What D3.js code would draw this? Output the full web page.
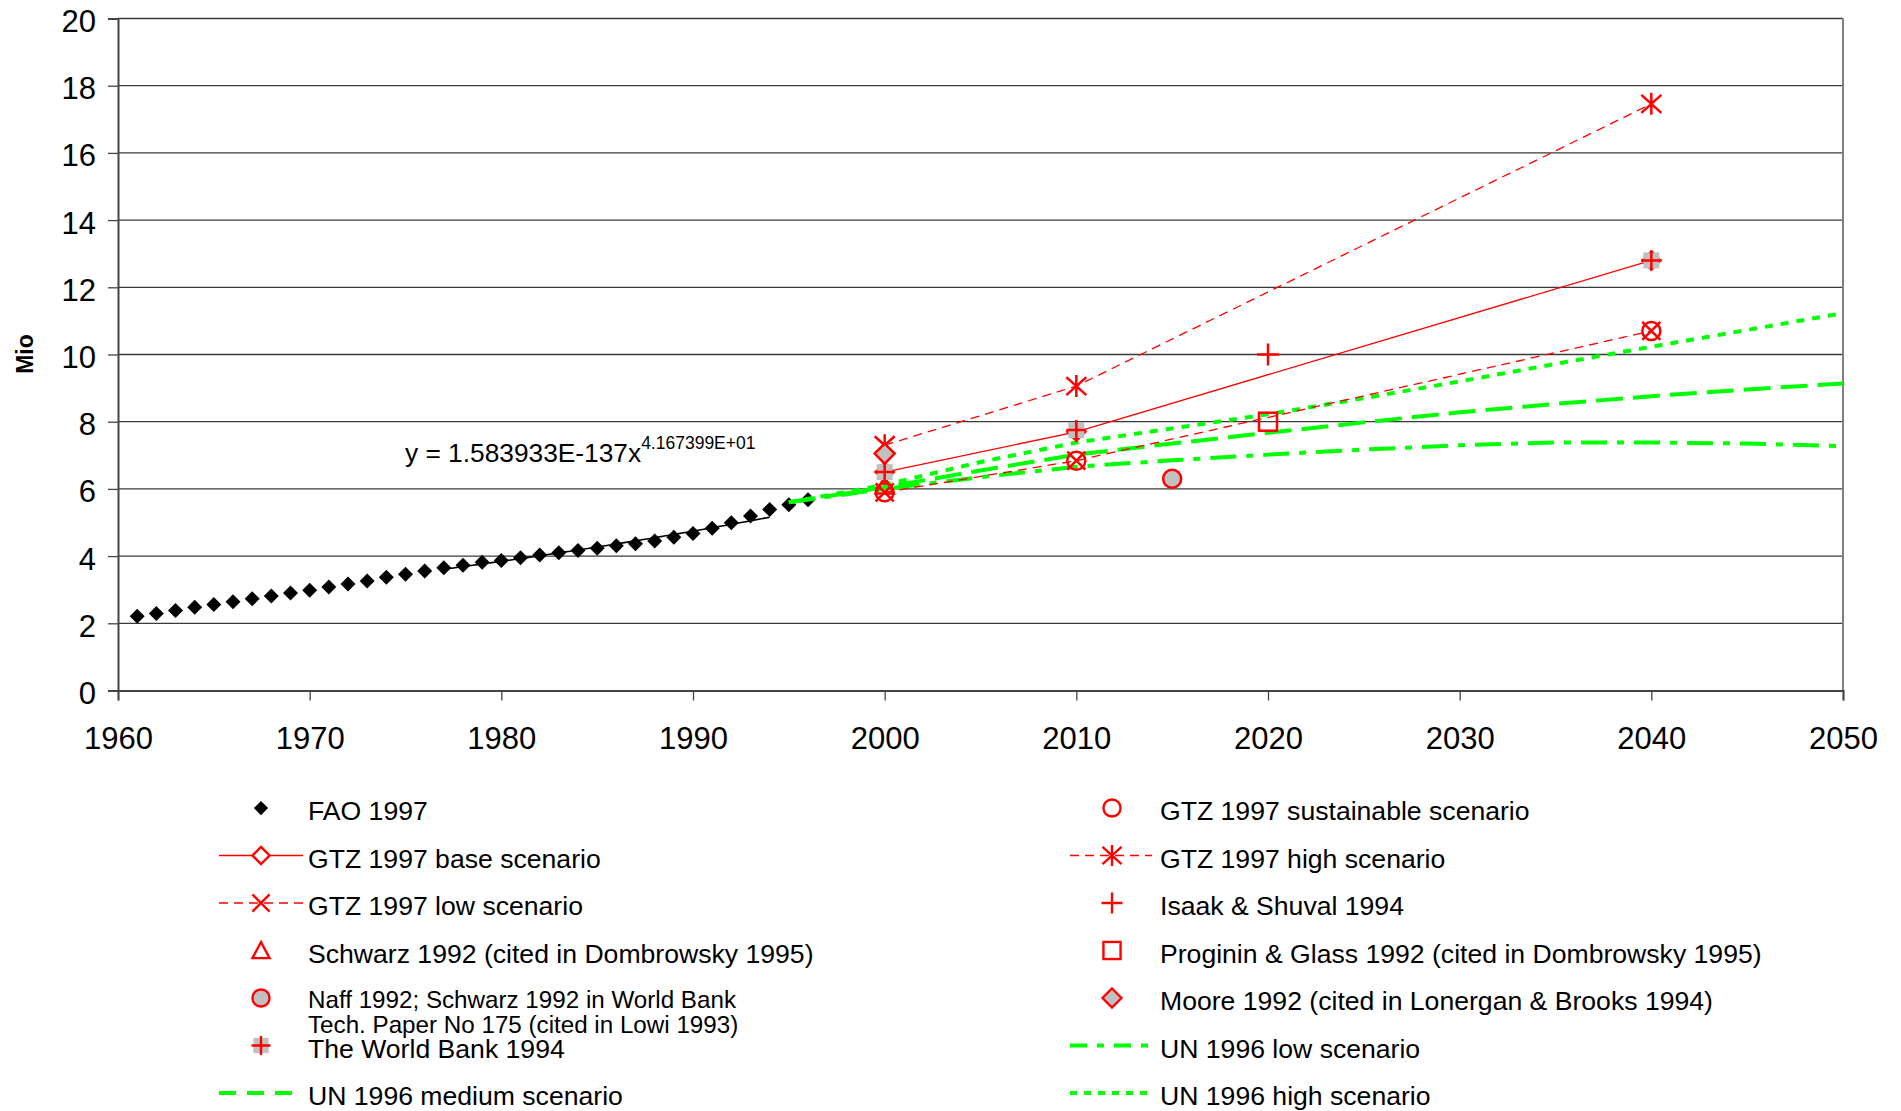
<!DOCTYPE html>
<html><head><meta charset="utf-8">
<script src="https://cdn.jsdelivr.net/npm/d3@7"></script>
<style>html,body{margin:0;padding:0;background:#fff;overflow:hidden}svg{display:block;font-family:"Liberation Sans",Arial,sans-serif}</style>
</head><body><svg id="c" width="1901" height="1111"></svg>
<script>
// ---- data ----
const faoYears = [1961,1962,1963,1964,1965,1966,1967,1968,1969,1970,1971,1972,1973,1974,1975,1976,1977,1978,1979,1980,1981,1982,1983,1984,1985,1986,1987,1988,1989,1990,1991,1992,1993,1994,1995,1996];
const faoValues = [2.21,2.29,2.38,2.48,2.56,2.64,2.73,2.81,2.90,2.98,3.08,3.17,3.26,3.37,3.46,3.56,3.65,3.73,3.82,3.87,3.95,4.03,4.10,4.17,4.23,4.31,4.37,4.45,4.56,4.67,4.83,4.99,5.19,5.39,5.53,5.68];
const trendCoef = [1.583933e-137, 41.67399];
const trendYears = [1977, 1994];
const gtzYears = [2000, 2010, 2040];
const gtzBase = [6.5, 7.7, 12.8];
const gtzLow = [5.9, 6.84, 10.7];
const gtzHigh = [7.3, 9.06, 17.46];
const gtzSustainable = [5.9, 6.84, 10.7];
const schwarzYears = [2000];
const schwarzValues = [6.1];
const naffYears = [2015];
const naffValues = [6.3];
const worldBankYears = [2000, 2010, 2040];
const worldBankValues = [6.5, 7.75, 12.8];
const isaakYears = [2020];
const isaakValues = [10.0];
const proginYears = [2020];
const proginValues = [8.0];
const mooreYears = [2000];
const mooreValues = [7.05];
const unYears = [1995,2000,2005,2010,2015,2020,2025,2030,2035,2040,2045,2050];
const unLow = [5.6,6.0,6.35,6.66,6.85,7.02,7.17,7.3,7.38,7.38,7.35,7.27];
const unMedium = [5.6,6.05,6.55,7.02,7.35,7.67,7.98,8.28,8.53,8.76,8.96,9.14];
const unHigh = [5.6,6.12,6.8,7.38,7.8,8.22,8.7,9.2,9.72,10.23,10.73,11.23];
const xTicks = [1960,1970,1980,1990,2000,2010,2020,2030,2040,2050];
const yTicks = [0,2,4,6,8,10,12,14,16,18,20];
const yTitle = "Mio";
const eqMain = "y = 1.583933E-137x";
const eqSup = "4.167399E+01";
const legendLeft = ["FAO 1997","GTZ 1997 base scenario","GTZ 1997 low scenario","Schwarz 1992 (cited in Dombrowsky 1995)",["Naff 1992; Schwarz 1992 in World Bank","Tech. Paper No 175 (cited in Lowi 1993)"],"The World Bank 1994","UN 1996 medium scenario"];
const legendRight = ["GTZ 1997 sustainable scenario","GTZ 1997 high scenario","Isaak & Shuval 1994","Proginin & Glass 1992 (cited in Dombrowsky 1995)","Moore 1992 (cited in Lonergan & Brooks 1994)","UN 1996 low scenario","UN 1996 high scenario"];

// ---- setup ----
const svg = d3.select("#c");
svg.append("rect").attr("width",1901).attr("height",1111).attr("fill","#fff");
const L=118, R=1843, T=18.5, B=690.5;
const x = d3.scaleLinear().domain([1960,2050]).range([L,R]);
const y = d3.scaleLinear().domain([0,20]).range([B,T]);
const RED="#ff0000", GREEN="#00ff00", GREY="#c0c0c0";

// gridlines
svg.append("g").selectAll("line").data(yTicks.filter(d=>d>0)).join("line")
  .attr("x1",L).attr("x2",R).attr("y1",d=>y(d)).attr("y2",d=>y(d))
  .attr("stroke","#3a3a3a").attr("stroke-width",1.3);
// right border
svg.append("line").attr("x1",R).attr("x2",R).attr("y1",T).attr("y2",B).attr("stroke","#808080").attr("stroke-width",2);

// axes
const yAxis = svg.append("g").attr("transform",`translate(${L},0)`)
  .call(d3.axisLeft(y).tickValues(yTicks).tickSize(10).tickPadding(12).tickFormat(d3.format("d")));
const xAxis = svg.append("g").attr("transform",`translate(0,${B})`)
  .call(d3.axisBottom(x).tickValues(xTicks).tickSize(10).tickPadding(26).tickFormat(d3.format("d")));
[yAxis,xAxis].forEach(a=>{
  a.select(".domain").attr("stroke","#444").attr("stroke-width",2);
  a.selectAll(".tick line").attr("stroke","#444").attr("stroke-width",1.3);
  a.selectAll("text").attr("font-size",31).attr("fill","#000").attr("font-family",'"Liberation Sans",Arial,sans-serif');
});
yAxis.selectAll("text").attr("dy","0.42em");

svg.append("text").attr("transform","translate(33,354) rotate(-90)").attr("text-anchor","middle")
  .attr("font-weight","bold").attr("font-size",23).text(yTitle);

// ---- markers ----
function marker(sel, type, cx, cy, s=1){
  const g = sel.append("g").attr("transform",`translate(${cx},${cy}) scale(${s})`);
  const st = (e)=>e.attr("stroke",RED).attr("stroke-width",2.5);
  switch(type){
    case "fao": g.append("path").attr("d","M0,-7.5L7.5,0L0,7.5L-7.5,0Z").attr("fill","#000"); break;
    case "diamondOpen": st(g.append("path").attr("d","M0,-9L9,0L0,9L-9,0Z").attr("fill","#fff")); break;
    case "x": st(g.append("path").attr("d","M-9,-9L9,9M-9,9L9,-9").attr("fill","none")); break;
    case "triangle": st(g.append("path").attr("d","M0,-9L9,8L-9,8Z").attr("fill","none")); break;
    case "circleGrey": st(g.append("circle").attr("r",9).attr("fill",GREY)); break;
    case "wb": g.append("rect").attr("x",-8).attr("y",-8).attr("width",16).attr("height",16).attr("fill",GREY);
               st(g.append("path").attr("d","M-10,0H10M0,-10V10")); break;
    case "circleOpen": st(g.append("circle").attr("r",9).attr("fill","none")); break;
    case "asterisk": st(g.append("path").attr("d","M-10,-9L10,9M-10,9L10,-9M0,-11V11").attr("fill","none")); break;
    case "plus": st(g.append("path").attr("d","M-11,0H11M0,-11V11")); break;
    case "square": st(g.append("rect").attr("x",-9).attr("y",-9).attr("width",18).attr("height",18).attr("fill","none")); break;
    case "diamondGrey": st(g.append("path").attr("d","M0,-10L10,0L0,10L-10,0Z").attr("fill",GREY)); break;
  }
}
const line = d3.line().x(d=>x(d[0])).y(d=>y(d[1]));
const zip = (a,b)=>a.map((v,i)=>[v,b[i]]);

// FAO points
const plot = svg.append("g");
zip(faoYears,faoValues).forEach(d=>marker(plot,"fao",x(d[0]),y(d[1])));
// trend line (from the equation shown on the chart)
const trendPts = d3.range(trendYears[0], trendYears[1]+0.01, 0.25).map(t=>[t, trendCoef[0]*Math.pow(t,trendCoef[1])]);
plot.append("path").attr("d",line(trendPts)).attr("fill","none").attr("stroke","#000").attr("stroke-width",1.6);

// UN lines
const unStyles = [[unLow,"26,10,7,10"],[unMedium,"27,10"],[unHigh,"8,8"]];
unStyles.forEach(([v,da])=>plot.append("path").attr("d",line(zip(unYears,v))).attr("fill","none")
  .attr("stroke",GREEN).attr("stroke-width",4).attr("stroke-dasharray",da));

// GTZ lines
plot.append("path").attr("d",line(zip(gtzYears,gtzBase))).attr("fill","none").attr("stroke",RED).attr("stroke-width",1.3);
plot.append("path").attr("d",line(zip(gtzYears,gtzLow))).attr("fill","none").attr("stroke",RED).attr("stroke-width",1.3).attr("stroke-dasharray","9,6");
plot.append("path").attr("d",line(zip(gtzYears,gtzHigh))).attr("fill","none").attr("stroke",RED).attr("stroke-width",1.3).attr("stroke-dasharray","9,6");

// point markers
const pointSets = [
  [schwarzYears,schwarzValues,"triangle"],
  [gtzYears,gtzBase,"diamondOpen"],
  [gtzYears,gtzLow,"x"],
  [gtzYears,gtzSustainable,"circleOpen"],
  [naffYears,naffValues,"circleGrey"],
  [worldBankYears,worldBankValues,"wb"],
  [gtzYears,gtzHigh,"asterisk"],
  [isaakYears,isaakValues,"plus"],
  [proginYears,proginValues,"square"],
  [mooreYears,mooreValues,"diamondGrey"]
];
pointSets.forEach(([xs,vs,t])=>zip(xs,vs).forEach(d=>marker(plot,t,x(d[0]),y(d[1]))));

// equation
const eq = svg.append("text").attr("x",405).attr("y",462).attr("font-size",26.3).attr("fill","#000");
eq.append("tspan").text(eqMain);
eq.append("tspan").attr("font-size",17.5).attr("dy",-13).text(eqSup);

// ---- legend ----
const lg = svg.append("g");
const rowY = i => 808 + i*47.5;
function legLine(x1,x2,yy,color,w,da){
  const l = lg.append("line").attr("x1",x1).attr("x2",x2).attr("y1",yy).attr("y2",yy).attr("stroke",color).attr("stroke-width",w);
  if(da) l.attr("stroke-dasharray",da);
}
function legText(xx,yy,t){
  if(Array.isArray(t)){
    t.forEach((s,j)=>lg.append("text").attr("x",xx).attr("y",yy+10+j*25).attr("font-size",24.2).text(s));
  } else lg.append("text").attr("x",xx).attr("y",yy+12).attr("font-size",26.6).text(t);
}
const leftSpec = [
  {m:"fao"},
  {m:"diamondOpen", ln:[RED,1.3,null]},
  {m:"x", ln:[RED,1.3,"9,6"]},
  {m:"triangle"},
  {m:"circleGrey"},
  {m:"wb"},
  {ln:[GREEN,4,"17,11"]}
];
const rightSpec = [
  {m:"circleOpen"},
  {m:"asterisk", ln:[RED,1.3,"9,6"]},
  {m:"plus"},
  {m:"square"},
  {m:"diamondGrey"},
  {ln:[GREEN,4,"17,10,7,10"]},
  {ln:[GREEN,4,"7,7"]}
];
function drawCol(spec,labels,x1,x2,mx,tx){
  spec.forEach((s,i)=>{
    const yy=rowY(i);
    if(s.ln) legLine(x1,x2,yy,s.ln[0],s.ln[1],s.ln[2]);
    if(s.m) marker(lg,s.m,mx,yy,0.95);
    legText(tx,yy,labels[i]);
  });
}
drawCol(leftSpec,legendLeft,219,303,261,308);
drawCol(rightSpec,legendRight,1070,1152,1112,1160);
</script></body></html>
